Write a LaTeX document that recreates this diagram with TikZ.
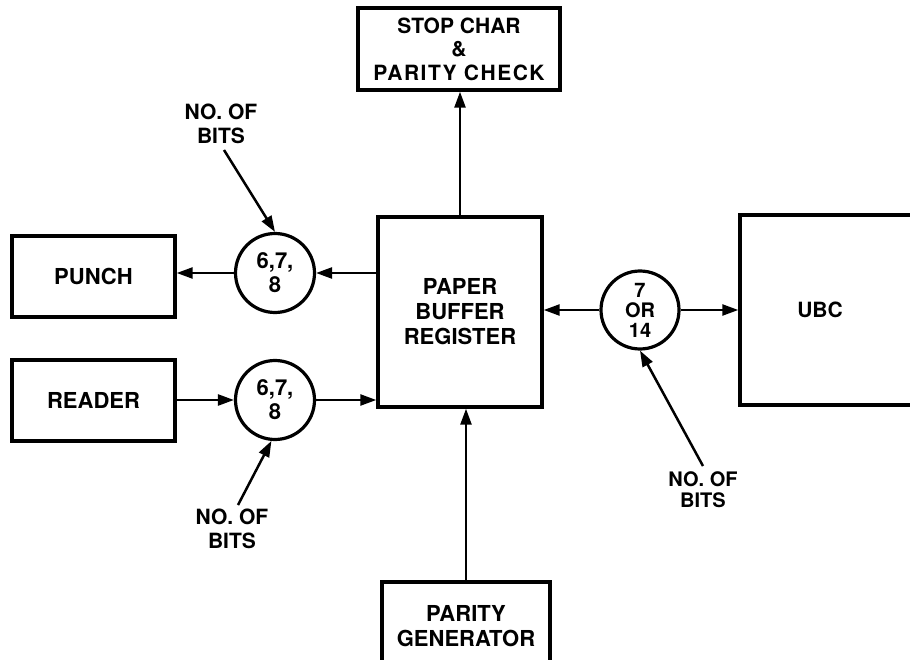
\documentclass[tikz,border=0pt]{standalone}
\usepackage{fontspec}
\setmainfont{TeX Gyre Heros}
\usetikzlibrary{arrows.meta}
\begin{document}
\begin{tikzpicture}[x=1pt,y=-1pt,
  box/.style={draw,line width=3.4pt,rectangle,inner sep=0pt,align=center,
    font=\fontsize{22}{25}\bfseries},
  ring/.style={draw,line width=3.2pt,circle,inner sep=0pt,minimum size=79pt,align=center,
    font=\fontsize{22}{24}\bfseries},
  lbl/.style={align=center,inner sep=0pt,font=\fontsize{21}{24}\bfseries},
  arr/.style={line width=2.5pt,-{Triangle[length=16pt,width=11pt]}}]
\useasboundingbox (0,0) rectangle (910,660);
\clip (0,0) rectangle (910,660);
\fill[white] (0,0) rectangle (910,660);
% boxes
\node[box,minimum width=163pt,minimum height=81pt] (punch) at (93.5,276.5) {PUNCH};
\node[box,minimum width=163pt,minimum height=81pt] (reader) at (93.5,400.5) {READER};
\node[box,minimum width=164pt,minimum height=190pt] (pbr) at (460,312) {PAPER\\BUFFER\\REGISTER};
\node[box,minimum width=202pt,minimum height=82pt,font=\fontsize{21}{23.5}\bfseries] (stop) at (459,49)
  {STOP CHAR\\\&\\{\addfontfeature{LetterSpace=7}PARITY CHECK}};
\node[box,minimum width=190pt,minimum height=190pt,
  label={[xshift=-15pt,font=\fontsize{21}{24}\bfseries]center:UBC}] (ubc) at (835,310) {};
\node[box,minimum width=168pt,minimum height=88pt] (parity) at (466,626) {PARITY\\GENERATOR};
% circles
\node[ring] (c1) at (275,273) {6,7,\\8};
\node[ring] (c2) at (275,400) {6,7,\\8};
\node[ring,minimum size=78pt,font=\fontsize{20}{20}\bfseries] (c3) at (640,310) {7\\OR\\14};
% labels
\node[lbl] (l1) at (221,124) {NO. OF\\BITS};
\node[lbl] (l2) at (232,529) {NO. OF\\BITS};
\node[lbl,font=\fontsize{20}{21}\bfseries] (l3) at (703,490) {NO. OF\\BITS};
\coordinate (n1) at (224,150);
\coordinate (n2) at (238,505);
\coordinate (n3) at (703,466);
% connectors
\draw[arr] (pbr.west |- c1.east) -- (c1.east);
\draw[arr] (c1.west) -- (punch.east |- c1.west);
\draw[arr] (reader.east |- c2.west) -- (c2.west);
\draw[arr] (c2.east) -- (pbr.west |- c2.east);
\draw[arr] (pbr.north) -- (stop.south -| pbr.north);
\draw[arr] (parity.north) -- (pbr.south -| parity.north);
\draw[arr] (c3.west) -- (pbr.east |- c3.west);
\draw[arr] (c3.east) -- (ubc.west |- c3.east);
\draw[arr] (n1) -- (c1.north);
\draw[arr] (n2) -- (c2.-95);
\draw[arr] (n3) -- (c3.south);
\end{tikzpicture}
\end{document}
